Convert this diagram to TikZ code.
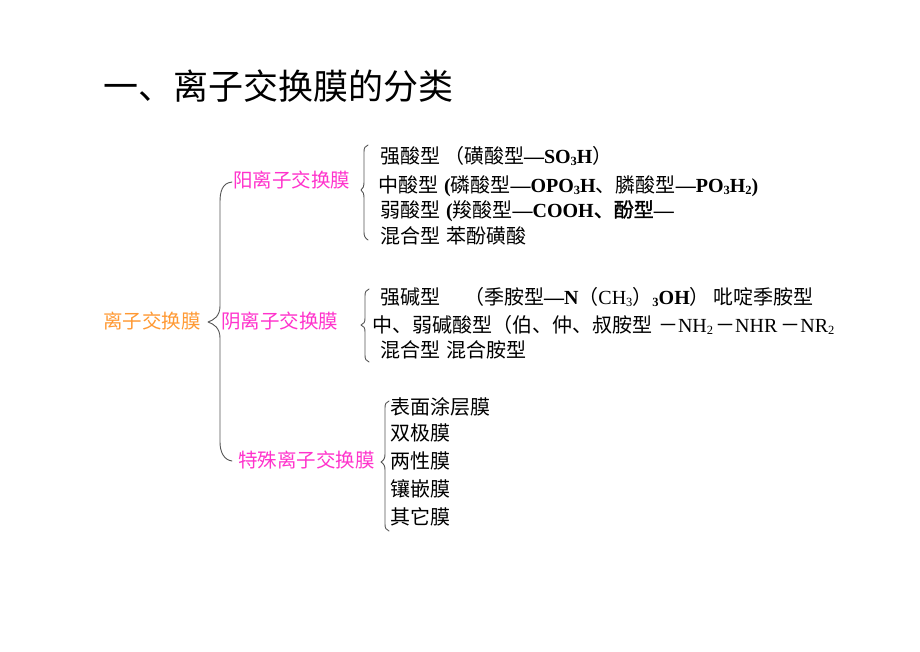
\documentclass[tikz,border=0pt]{standalone}
\usepackage{fontspec}
\setmainfont{Liberation Serif}
\newfontfamily\cjk{Noto Sans CJK SC}
\newfontfamily\cjkb[FakeBold=1.5]{Noto Sans CJK SC}
\newcommand\sbs[1]{\raisebox{-0.12em}{\fontsize{12.5}{12.5}\selectfont #1}}
\definecolor{rootorange}{RGB}{255,153,51}
\definecolor{subpink}{RGB}{255,51,204}
\definecolor{bracegray}{RGB}{85,85,85}
\tikzset{
  txt/.style={anchor=base west, inner sep=0pt, outer sep=0pt, font=\fontsize{20}{23}\selectfont},
  titletxt/.style={anchor=base west, inner sep=0pt, font=\fontsize{35}{40}\selectfont\cjk},
  rootlbl/.style={txt, font=\fontsize{19.5}{22}\selectfont, text=rootorange},
  catlbl/.style={txt, font=\fontsize{19.5}{22}\selectfont, text=subpink},
  bracel/.style={draw=bracegray, line width=0.9pt, line cap=round, line join=round}
}
\begin{document}
\begin{tikzpicture}[x=1pt,y=-1pt]
\useasboundingbox (0,0) rectangle (920,651);
\fill[white] (0,0) rectangle (920,651);

\node[titletxt] (title) at (103,99) {一、离子交换膜的分类};

\node[rootlbl] (root) at (103,328) {\cjk 离子交换膜};
\node[catlbl] (yang) at (233,187) {\cjk 阳离子交换膜};
\node[catlbl] (yin) at (221,328) {\cjk 阴离子交换膜};
\node[catlbl] (tesh) at (238,467) {\cjk 特殊离子交换膜};

% cation
\node[txt] (a1) at (380,163) {{\cjk 强酸型\hspace{4pt}（磺酸型}\textbf{—SO\sbs{3}H}{\cjk ）}};
\node[txt] (a2) at (378,192) {{\cjk 中酸型}\hspace{6pt}\textbf{(}{\cjk 磷酸型}\textbf{—OPO\sbs{3}H}{\cjk 、膦酸型}\textbf{—PO\sbs{3}H\sbs{2})}};
\node[txt] (a3) at (380,217) {{\cjk 弱酸型}\hspace{6pt}\textbf{(}{\cjk 羧酸型}\textbf{—COOH}{\cjkb 、酚型}\textbf{—}};
\node[txt] (a4) at (380,243) {{\cjk 混合型\hspace{6pt}苯酚磺酸}};

% anion
\node[txt] (b1) at (380,304) {{\cjk 强碱型\hspace{24pt}（季胺型}\textbf{—N}{\cjk （}CH\sbs{3}{\cjk ）}\textbf{\sbs{3}OH}{\cjk ）\hspace{4pt}吡啶季胺型}};
\node[txt] (b2) at (372,332) {{\cjk 中、弱碱酸型（伯、仲、叔胺型\hspace{6pt}－}NH\sbs{2}\hspace{2pt}{\cjk －}NHR\hspace{3pt}{\cjk －}NR\sbs{2}};
\node[txt] (b3) at (380,357) {{\cjk 混合型\hspace{6pt}混合胺型}};

% special
\node[txt] (c1) at (390,414) {\cjk 表面涂层膜};
\node[txt] (c2) at (390,440) {\cjk 双极膜};
\node[txt] (c3) at (390,468) {\cjk 两性膜};
\node[txt] (c4) at (390,496) {\cjk 镶嵌膜};
\node[txt] (c5) at (390,524) {\cjk 其它膜};

% big brace
\draw[bracel] (232,182) .. controls (222,183) and (220,192) .. (220,202)
  -- (220,306) .. controls (220,316) and (214,320) .. (208,322)
  .. controls (214,324) and (220,328) .. (220,338)
  -- (220,442) .. controls (220,452) and (224,460) .. (232,461);

% brace cation
\draw[bracel] (368,145) .. controls (365,146) and (364,148) .. (364,152)
  -- (364,182) .. controls (364,186) and (363,189) .. (361,190)
  .. controls (363,191) and (364,194) .. (364,198)
  -- (364,232) .. controls (364,236) and (365,238) .. (368,240);

% brace anion
\draw[bracel] (369,289) .. controls (366,290) and (365,292) .. (365,296)
  -- (365,318) .. controls (365,322) and (364,324) .. (361,325)
  .. controls (364,326) and (365,328) .. (365,332)
  -- (365,355) .. controls (365,359) and (366,361) .. (369,362);

% brace special
\draw[bracel] (389,401) .. controls (386,402) and (385,404) .. (385,408)
  -- (385,454) .. controls (385,458) and (384,460) .. (381,462)
  .. controls (384,464) and (385,466) .. (385,470)
  -- (385,524) .. controls (385,528) and (386,530) .. (389,531);
\end{tikzpicture}
\end{document}
